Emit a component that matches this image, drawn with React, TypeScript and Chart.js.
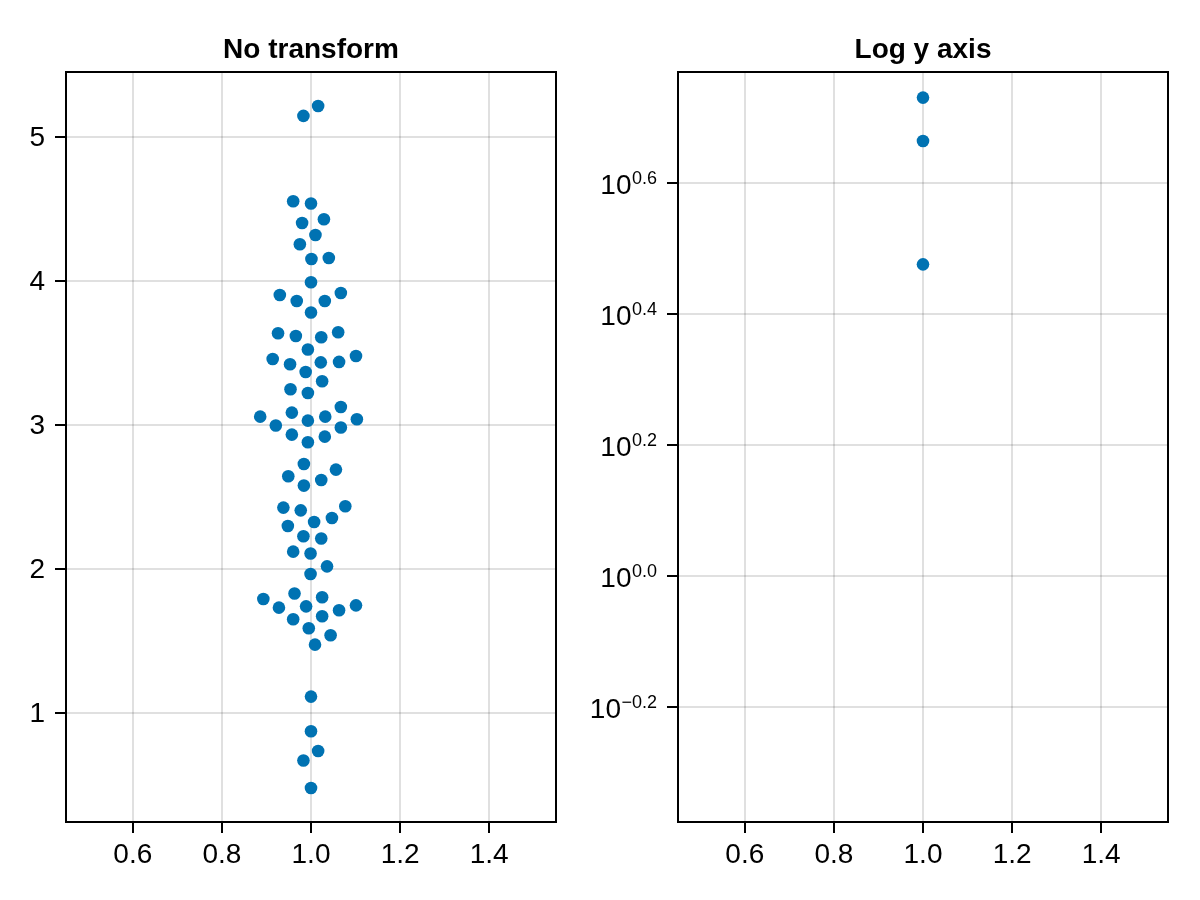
import React, { useEffect, useRef } from "react";
import { Chart, registerables } from "chart.js";

Chart.register(...registerables);

// ---- data ----
const titles = ["No transform", "Log y axis"];

const leftX = [
  1.016, 0.983, 0.960, 1.000, 0.980, 1.029, 1.010, 0.975, 1.001, 1.040,
  1.000, 0.930, 0.968, 1.031, 1.067, 1.000, 0.926, 0.966, 1.023, 1.061,
  0.993, 0.914, 0.953, 1.022, 1.063, 1.101, 0.988, 1.025, 0.954, 0.993,
  0.886, 0.921, 0.957, 0.993, 1.032, 1.067, 1.103, 1.067, 0.957, 0.993,
  1.031, 0.984, 0.949, 0.984, 1.023, 1.056, 0.938, 0.977, 1.047, 1.077,
  0.948, 1.007, 0.983, 1.023, 0.960, 0.999, 1.036, 0.999, 0.893, 0.963,
  0.928, 0.989, 1.025, 1.025, 1.063, 1.101, 0.960, 0.995, 1.044, 1.009,
  1.000, 1.000, 1.016, 0.983, 1.000,
];
const leftY = [
  5.214, 5.145, 4.552, 4.536, 4.401, 4.427, 4.318, 4.253, 4.151, 4.158,
  3.989, 3.901, 3.859, 3.859, 3.915, 3.779, 3.635, 3.616, 3.607, 3.642,
  3.522, 3.456, 3.420, 3.433, 3.436, 3.477, 3.366, 3.302, 3.246, 3.220,
  3.056, 2.994, 3.084, 3.028, 3.056, 3.123, 3.038, 2.980, 2.931, 2.878,
  2.917, 2.727, 2.642, 2.577, 2.616, 2.688, 2.424, 2.405, 2.352, 2.433,
  2.296, 2.324, 2.225, 2.209, 2.118, 2.105, 2.016, 1.963, 1.789, 1.827,
  1.729, 1.738, 1.801, 1.669, 1.711, 1.745, 1.648, 1.586, 1.537, 1.472,
  1.111, 0.870, 0.733, 0.667, 0.476,
];

const rightX = [1.0, 1.0, 1.0];
const rightY = [5.375, 4.615, 2.991];

const xTicks = [0.6, 0.8, 1.0, 1.2, 1.4];
const leftYTicks = [1, 2, 3, 4, 5];
const logExponents = [-0.2, 0.0, 0.2, 0.4, 0.6];

const X_MIN = 0.45;
const X_MAX = 1.55;
const LEFT_Y_MIN = 0.24;
const LEFT_Y_MAX = 5.45;
const LOG_Y_MIN = Math.pow(10, -0.3756);
const LOG_Y_MAX = Math.pow(10, 0.7695);

// ---- styles ----
const FONT = '"Liberation Sans", Arial, Helvetica, sans-serif';
const BLUE = "rgb(0, 114, 178)";
const GRID = "rgba(0, 0, 0, 0.12)";
const TICK_LEN = 11;

const gridOpts = {
  color: GRID,
  lineWidth: 2,
  tickColor: "#000",
  tickWidth: 2,
  tickLength: TICK_LEN,
  drawTicks: true,
};

function xScale() {
  return {
    type: "linear",
    min: X_MIN,
    max: X_MAX,
    bounds: "data",
    afterBuildTicks: (s: any) => {
      s.ticks = xTicks.map((v) => ({ value: v }));
    },
    afterFit: (s: any) => {
      s.height = 78;
    },
    ticks: {
      callback: (v: any) => Number(v).toFixed(1),
      font: { family: FONT, size: 28 },
      color: "#000",
      padding: 5,
      autoSkip: false,
      maxRotation: 0,
      minRotation: 0,
    },
    grid: gridOpts,
    border: { display: false },
  };
}

function decor(title: string, logLabels: boolean) {
  return {
    id: "decor",
    afterDraw(chart: any) {
      const ctx = chart.ctx;
      const a = chart.chartArea;
      ctx.save();
      // tick marks (outward)
      ctx.strokeStyle = "#000";
      ctx.lineWidth = 2;
      const xs = chart.scales.x;
      for (const t of xs.ticks) {
        const px = Math.round(xs.getPixelForValue(t.value));
        ctx.beginPath();
        ctx.moveTo(px, a.bottom);
        ctx.lineTo(px, a.bottom + TICK_LEN);
        ctx.stroke();
      }
      const ysc = chart.scales.y;
      for (const t of ysc.ticks) {
        const py = Math.round(ysc.getPixelForValue(t.value));
        ctx.beginPath();
        ctx.moveTo(a.left - TICK_LEN, py);
        ctx.lineTo(a.left, py);
        ctx.stroke();
      }
      // frame
      ctx.strokeRect(a.left, a.top, a.right - a.left, a.bottom - a.top);
      // title
      ctx.fillStyle = "#000";
      ctx.font = `bold 28px ${FONT}`;
      ctx.textAlign = "center";
      ctx.textBaseline = "alphabetic";
      ctx.fillText(title, (a.left + a.right) / 2, 58.3);
      // log tick labels 10^e
      if (logLabels) {
        const rx = a.left - 21;
        for (const t of ysc.ticks) {
          const py = ysc.getPixelForValue(t.value);
          let e = Math.log10(t.value);
          if (Math.abs(e) < 1e-9) e = 0;
          const s = e.toFixed(1).replace("-", "\u2212");
          ctx.textAlign = "right";
          ctx.font = `18px ${FONT}`;
          const w = ctx.measureText(s).width;
          ctx.fillText(s, rx, py + 0.6);
          ctx.font = `28px ${FONT}`;
          ctx.fillText("10", rx - w - 0.5, py + 11.3);
        }
      }
      ctx.restore();
    },
  };
}

function baseOptions(padRight: number) {
  return {
    animation: false,
    responsive: false,
    maintainAspectRatio: false,
    devicePixelRatio: 1,
    events: [],
    layout: { padding: { left: 0, top: 72, right: padRight, bottom: 0 } },
    plugins: { legend: { display: false }, tooltip: { enabled: false }, title: { display: false } },
  };
}

function dataset(xs: number[], ys: number[]) {
  return {
    type: "scatter",
    data: xs.map((x, i) => ({ x, y: ys[i] })),
    pointRadius: 6.3,
    pointHoverRadius: 6.3,
    pointBackgroundColor: BLUE,
    pointBorderWidth: 0,
    borderWidth: 0,
    showLine: false,
  };
}

export default function App() {
  const leftRef = useRef<HTMLCanvasElement | null>(null);
  const rightRef = useRef<HTMLCanvasElement | null>(null);

  useEffect(() => {
    const left = new Chart(leftRef.current as HTMLCanvasElement, {
      type: "scatter",
      data: { datasets: [dataset(leftX, leftY) as any] },
      options: {
        ...(baseOptions(44) as any),
        scales: {
          x: xScale(),
          y: {
            type: "linear",
            min: LEFT_Y_MIN,
            max: LEFT_Y_MAX,
            bounds: "data",
            afterBuildTicks: (s: any) => {
              s.ticks = leftYTicks.map((v) => ({ value: v }));
            },
            afterFit: (s: any) => {
              s.width = 66;
            },
            ticks: {
              callback: (v: any) => String(v),
              font: { family: FONT, size: 28 },
              color: "#000",
              padding: 10,
              labelOffset: 1.5,
              autoSkip: false,
            },
            grid: gridOpts,
            border: { display: false },
          },
        } as any,
      },
      plugins: [decor(titles[0], false) as any],
    });

    const right = new Chart(rightRef.current as HTMLCanvasElement, {
      type: "scatter",
      data: { datasets: [dataset(rightX, rightY) as any] },
      options: {
        ...(baseOptions(32) as any),
        scales: {
          x: xScale(),
          y: {
            type: "logarithmic",
            min: LOG_Y_MIN,
            max: LOG_Y_MAX,
            bounds: "data",
            afterBuildTicks: (s: any) => {
              s.ticks = logExponents.map((e) => ({ value: Math.pow(10, e) }));
            },
            afterFit: (s: any) => {
              s.width = 118;
            },
            ticks: {
              callback: () => "",
              font: { family: FONT, size: 28 },
              color: "#000",
              padding: 10,
              autoSkip: false,
            },
            grid: gridOpts,
            border: { display: false },
          },
        } as any,
      },
      plugins: [decor(titles[1], true) as any],
    });

    return () => {
      left.destroy();
      right.destroy();
    };
  }, []);

  return (
    <div style={{ position: "fixed", left: 0, top: 0, width: 1200, height: 900, background: "#fff" }}>
      <canvas
        ref={leftRef}
        width={600}
        height={900}
        style={{ position: "absolute", left: 0, top: 0, width: 600, height: 900 }}
      />
      <canvas
        ref={rightRef}
        width={640}
        height={900}
        style={{ position: "absolute", left: 560, top: 0, width: 640, height: 900 }}
      />
    </div>
  );
}
